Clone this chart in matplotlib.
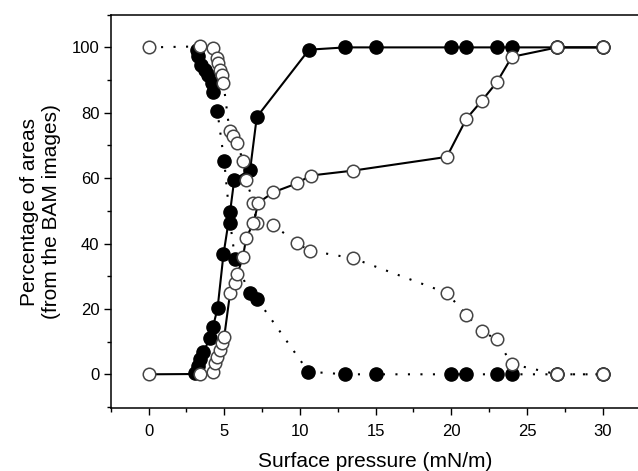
import matplotlib
matplotlib.use("Agg")
import matplotlib.pyplot as plt
from matplotlib.ticker import MultipleLocator

plt.rcParams["font.family"] = ["Liberation Sans", "DejaVu Sans"]

# Filled circles, solid line (rising fraction)
filled_rise_x = [3.1, 3.25, 3.4, 3.6, 4.07, 4.25, 4.56, 4.95, 5.39, 5.66, 6.71, 7.15,
                 10.6, 13.0, 15.0, 20.0, 21.0, 23.0, 24.0, 27.0, 30.0]
filled_rise_y = [0.3, 2.5, 4.8, 6.8, 11.0, 14.4, 20.2, 36.7, 49.8, 59.5, 62.6, 78.7,
                 99.3, 100, 100, 100, 100, 100, 100, 100, 100]

# Filled circles, dotted line (falling fraction)
filled_fall_x = [3.19, 3.3, 3.45, 3.7, 3.95, 4.18, 4.29, 4.55, 5.0, 5.39, 5.72, 6.67,
                 7.15, 10.56, 13.0, 15.0, 20.0, 21.0, 23.0, 24.0, 27.0, 30.0]
filled_fall_y = [99.3, 97.5, 94.5, 93.0, 91.5, 89.1, 86.5, 80.4, 65.1, 46.4, 35.2, 24.8,
                 23.1, 0.8, 0, 0, 0, 0, 0, 0, 0, 0]

# Open circles, solid line (rising fraction)
open_rise_x = [0, 3.41, 4.29, 4.4, 4.51, 4.69, 4.86, 5.0, 5.39, 5.68, 5.87, 6.23, 6.45,
               6.93, 7.26, 8.25, 9.8, 10.7, 13.5, 19.7, 21.0, 22.0, 23.0, 24.0, 27.0, 30.0]
open_rise_y = [0, 0.1, 0.8, 3.4, 5.4, 7.4, 9.6, 11.5, 25.0, 28.0, 30.7, 35.8, 41.6,
               46.4, 52.5, 55.7, 58.4, 60.8, 62.3, 66.5, 78.2, 83.6, 89.3, 97.1, 100, 100]

# Open circles, dotted line (falling fraction)
open_fall_x = [0, 3.41, 4.29, 4.51, 4.62, 4.73, 4.84, 4.95, 5.35, 5.61, 5.87, 6.23, 6.45,
               6.93, 7.15, 8.25, 9.8, 10.67, 13.5, 19.7, 21.0, 22.0, 23.0, 24.0, 27.0, 30.0]
open_fall_y = [100, 100.3, 99.8, 96.8, 95.2, 93.2, 91.6, 89.1, 74.3, 72.8, 70.7, 65.3, 59.5,
               52.5, 46.2, 45.7, 40.1, 37.8, 35.5, 24.9, 18.2, 13.2, 10.7, 3.1, 0, 0]

DOTTED = (0, (1, 5))

fig = plt.figure(figsize=(6.38, 4.71), dpi=100)
ax = fig.add_axes([0.1735, 0.1331, 0.8305, 0.8357])

ax.plot(filled_fall_x, filled_fall_y, color="black", linestyle=DOTTED, linewidth=1.5,
        marker="o", markersize=9.5, markerfacecolor="black", markeredgecolor="black", zorder=2)
ax.plot(filled_rise_x, filled_rise_y, color="black", linestyle="-", linewidth=1.5,
        marker="o", markersize=9.5, markerfacecolor="black", markeredgecolor="black", zorder=2)
ax.plot(open_fall_x, open_fall_y, color="black", linestyle=DOTTED, linewidth=1.5,
        marker="o", markersize=9, markerfacecolor="white", markeredgecolor="#444444",
        markeredgewidth=1.1, zorder=3)
ax.plot(open_rise_x, open_rise_y, color="black", linestyle="-", linewidth=1.5,
        marker="o", markersize=9, markerfacecolor="white", markeredgecolor="#444444",
        markeredgewidth=1.1, zorder=3)

ax.set_xlim(-2.5, 32.5)
ax.set_ylim(-10.4, 110)

ax.xaxis.set_major_locator(MultipleLocator(5))
ax.xaxis.set_minor_locator(MultipleLocator(2.5))
ax.yaxis.set_major_locator(MultipleLocator(20))
ax.yaxis.set_minor_locator(MultipleLocator(10))

ax.tick_params(which="major", direction="out", length=5, width=1.0, labelsize=12, pad=3)
ax.tick_params(axis="x", which="major", pad=6)
ax.tick_params(which="minor", direction="out", length=3, width=1.0)
ax.tick_params(top=False, right=False, which="both")

for side in ax.spines.values():
    side.set_linewidth(1.1)

ax.set_xlabel("Surface pressure (mN/m)", fontsize=15, labelpad=10)
ax.set_ylabel("Percentage of areas\n(from the BAM images)", fontsize=15, labelpad=8,
              linespacing=1.15)

plt.savefig("out.png", dpi=100)
